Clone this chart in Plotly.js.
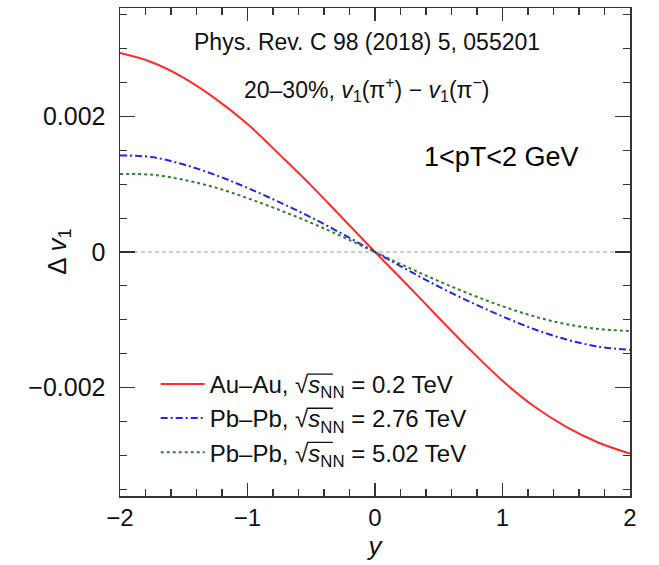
<!DOCTYPE html>
<html>
<head>
<meta charset="utf-8">
<script src="https://cdn.plot.ly/plotly-3.0.1.min.js"></script>
<style>html,body{margin:0;padding:0;background:#fff;}#chart{width:659px;height:565px;}</style>
</head>
<body>
<div id="chart"></div>
<script>
// rapidity grid
const rapidity = [-2, -1.75, -1.5, -1.25, -1, -0.75, -0.5, -0.25, 0, 0.25, 0.5, 0.75, 1, 1.25, 1.5, 1.75, 2];
// Delta v1 values
const auau200 = [0.002935, 0.0028, 0.00257, 0.00226, 0.00189, 0.00144, 0.00098, 0.00049, 0, -0.00048, -0.00097, -0.00145, -0.00190, -0.00228, -0.00258, -0.00281, -0.002975];
const pbpb276 = [0.001425, 0.0014, 0.00129, 0.001135, 0.000945, 0.000735, 0.00051, 0.00026, 0, -0.00026, -0.00051, -0.00074, -0.00095, -0.00114, -0.00129, -0.001395, -0.001445];
const pbpb502 = [0.00115, 0.00114, 0.001065, 0.00095, 0.000795, 0.00062, 0.00043, 0.00022, 0, -0.00022, -0.00043, -0.000625, -0.0008, -0.00095, -0.001065, -0.001135, -0.001165];
const seriesNames = [
  'Au\u2013Au, \u221A<i>s</i><sub>NN</sub> = 0.2 TeV',
  'Pb\u2013Pb, \u221A<i>s</i><sub>NN</sub> = 2.76 TeV',
  'Pb\u2013Pb, \u221A<i>s</i><sub>NN</sub> = 5.02 TeV'
];
const yTickVals = [-0.002, 0, 0.002];
const yTickText = ['\u22120.002', '0', '0.002'];
const xTickVals = [-2, -1, 0, 1, 2];
const xTickText = ['\u22122', '\u22121', '0', '1', '2'];

const font = 'Liberation Sans, Arial, Helvetica, sans-serif';

const traces = [
  {x: rapidity, y: auau200, name: seriesNames[0], mode: 'lines',
   line: {color: '#ff2a2a', width: 2, shape: 'spline'}},
  {x: rapidity, y: pbpb276, name: seriesNames[1], mode: 'lines',
   line: {color: '#2323f0', width: 2, dash: '7px,3px,2px,3px', shape: 'spline'}},
  {x: rapidity, y: pbpb502, name: seriesNames[2], mode: 'lines',
   line: {color: '#2f7f2f', width: 2, dash: '3px,3px', shape: 'spline'}}
];

const axisCommon = {
  showline: true, linecolor: '#333', linewidth: 1.5, mirror: 'ticks',
  ticks: 'inside', tickcolor: '#333', tickwidth: 1.3,
  showgrid: false, zeroline: false
};

const layout = {
  width: 659, height: 565,
  margin: {l: 120, r: 29, t: 8, b: 69},
  paper_bgcolor: '#fff', plot_bgcolor: '#fff',
  showlegend: true,
  legend: {x: 0.07, y: 0.275, xanchor: 'left', yanchor: 'top', itemwidth: 44,
           bgcolor: 'rgba(255,255,255,0)', borderwidth: 0,
           font: {family: font, size: 24, color: '#111'}},
  xaxis: Object.assign({}, axisCommon, {
    range: [-2, 2], tickvals: xTickVals, ticktext: xTickText, ticklen: 13,
    tickfont: {family: font, size: 24, color: '#111'},
    minor: {dtick: 0.2, ticklen: 7, ticks: 'inside', tickcolor: '#333', tickwidth: 1.2, showgrid: false},
    ticklabelstandoff: 0,
    title: {text: '<i>y</i>', font: {family: font, size: 26, color: '#111'}, standoff: 6}
  }),
  yaxis: Object.assign({}, axisCommon, {
    range: [-0.0036, 0.0036], tickvals: yTickVals, ticktext: yTickText, ticklen: 15,
    tickfont: {family: font, size: 25, color: '#111'},
    minor: {dtick: 0.0005, ticklen: 7, ticks: 'inside', tickcolor: '#333', tickwidth: 1.2, showgrid: false},
    ticklabelstandoff: 8,
    title: {text: ''}
  }),
  shapes: [
    {type: 'line', xref: 'paper', x0: 0, x1: 1, yref: 'y', y0: 0, y1: 0,
     line: {color: '#9a9a9a', width: 1, dash: '4px,3px'}, layer: 'below'}
  ],
  annotations: [
    {xref: 'paper', yref: 'paper', x: -0.122, y: 0.5, xanchor: 'center', yanchor: 'middle', showarrow: false,
     textangle: -90, text: '\u0394 <i>v</i><sub>1</sub>', font: {family: font, size: 26, color: '#111'}},
    {xref: 'paper', yref: 'paper', x: 0.485, y: 0.93, xanchor: 'center', yanchor: 'middle', showarrow: false,
     text: 'Phys. Rev. C 98 (2018) 5, 055201', font: {family: font, size: 23, color: '#111'}},
    {xref: 'paper', yref: 'paper', x: 0.485, y: 0.835, xanchor: 'center', yanchor: 'middle', showarrow: false,
     text: '20\u201330%, <i>v</i><sub>1</sub>(\u03C0<sup>+</sup>) \u2212 <i>v</i><sub>1</sub>(\u03C0<sup>\u2212</sup>)',
     font: {family: font, size: 23, color: '#111'}},
    {xref: 'paper', yref: 'paper', x: 0.748, y: 0.695, xanchor: 'center', yanchor: 'middle', showarrow: false,
     text: '1&lt;pT&lt;2 GeV', font: {family: font, size: 27, color: '#000'}}
  ]
};

// draw the radical's overline (vinculum) over s_NN in each legend label
function addOverlines(gd) {
  const texts = gd.querySelectorAll('.legendtext');
  texts.forEach(function (t) {
    const s = t.textContent;
    const iRad = s.indexOf('\u221A');
    if (iRad < 0) return;
    const iEnd = iRad + 3; // s, N, N
    try {
      const eRad = t.getExtentOfChar(iRad);
      const eEnd = t.getExtentOfChar(iEnd);
      const base = t.getStartPositionOfChar(iRad).y;
      const fs = 24;
      const yTop = base - 0.80 * fs;
      const ln = document.createElementNS('http://www.w3.org/2000/svg', 'line');
      ln.setAttribute('x1', eRad.x + eRad.width - 1.2);
      ln.setAttribute('x2', eEnd.x + eEnd.width + 0.5);
      ln.setAttribute('y1', yTop);
      ln.setAttribute('y2', yTop);
      ln.setAttribute('stroke', '#111');
      ln.setAttribute('stroke-width', '1.3');
      t.parentNode.appendChild(ln);
    } catch (e) {}
  });
}

Plotly.newPlot('chart', traces, layout, {displayModeBar: false, staticPlot: true})
  .then(function (gd) { addOverlines(gd); });
</script>
</body>
</html>
